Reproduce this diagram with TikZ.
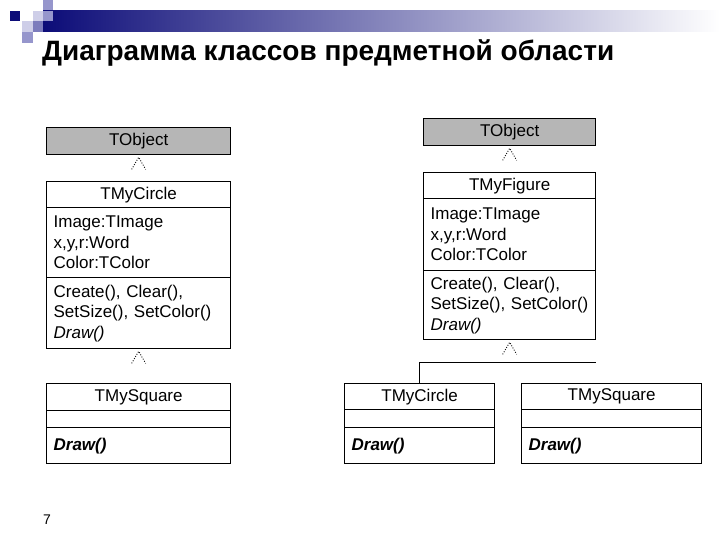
\documentclass[tikz,border=0pt]{standalone}
\usepackage{fontspec}
\setmainfont{Liberation Sans}
\usetikzlibrary{calc}

\definecolor{headnavy}{RGB}{12,12,120}
\definecolor{objgray}{RGB}{182,182,182}
\definecolor{lavlight}{RGB}{206,206,232}
\definecolor{lavmid}{RGB}{150,150,204}
\definecolor{lavdark}{RGB}{124,124,188}

%% open dotted triangle under a class (inheritance tip)
\newcommand{\inhtip}[1]{%
    \coordinate (#1-tip) at ($(#1.south)+(0,2)$);
    \draw[tipline] ($(#1-tip)+(-7,12)$) -- (#1-tip) -- ($(#1-tip)+(7,12)$);
}

\begin{document}
\begin{tikzpicture}[x=1pt,y=-1pt,
    part/.style={draw, line width=1.3pt, anchor=north west, inner xsep=7pt,
        inner ysep=0pt, align=left, font=\fontsize{17}{20.5}\selectfont},
    namepart/.style={part, align=center},
    objbox/.style={namepart, fill=objgray},
    tipline/.style={line width=0.9pt, dash pattern=on 0.9pt off 1.6pt}]
    \useasboundingbox (0,0) rectangle (720,540);

    %% Slide header
    \shade[left color=headnavy, right color=white] (43,11) rectangle (720,32);
    \fill[lavmid] (43,0) rectangle (53,10);
    \fill[headnavy] (10,11) rectangle (20,21);
    \fill[lavlight] (33,11) rectangle (43,21);
    \fill[lavmid] (43,11) rectangle (53,21);
    \fill[lavlight] (22,21) rectangle (33,32);
    \fill[lavdark] (33,21) rectangle (43,32);
    \fill[lavmid] (22,32) rectangle (33,43);
    \node[anchor=base west, inner sep=0pt, font=\bfseries\fontsize{28}{30}\selectfont]
        (title) at (42,61) {Диаграмма классов предметной области};

    %% Left: TObject <- TMyCircle <- TMySquare
    \node[objbox, text width=170pt, minimum height=27] (obj1) at (46,127) {TObject};
    \node[namepart, text width=170pt, minimum height=26] (circ1-name) at (46,181) {TMyCircle};
    \node[part, text width=170pt, minimum height=70] (circ1-attr) at (46,207)
        {Image:TImage\\x,y,r:Word\\Color:TColor};
    \node[part, text width=170pt, minimum height=71] (circ1-ops) at (46,277)
        {Create(), Clear(),\\SetSize(), SetColor()\\\textit{Draw()}};
    \node[namepart, text width=170pt, minimum height=27] (sq1-name) at (46,383) {TMySquare};
    \node[part, text width=170pt, minimum height=17] (sq1-attr) at (46,410) {};
    \node[part, text width=170pt, minimum height=36] (sq1-ops) at (46,427)
        {\textbf{\textit{Draw()}}};
    \inhtip{obj1}
    \inhtip{circ1-ops}

    %% Right: TObject <- TMyFigure <- TMyCircle, TMySquare
    \node[objbox, text width=158pt, minimum height=27] (obj2) at (423,118) {TObject};
    \node[namepart, text width=158pt, minimum height=26] (fig-name) at (423,172) {TMyFigure};
    \node[part, text width=158pt, minimum height=72] (fig-attr) at (423,198)
        {Image:TImage\\x,y,r:Word\\Color:TColor};
    \node[part, text width=158pt, minimum height=69] (fig-ops) at (423,270)
        {Create(), Clear(),\\\mbox{SetSize(), SetColor()}\\\textit{Draw()}};
    \inhtip{obj2}
    \inhtip{fig-ops}

    \node[namepart, text width=136pt, minimum height=26] (circ2-name) at (344,383) {TMyCircle};
    \node[part, text width=136pt, minimum height=18] (circ2-attr) at (344,409) {};
    \node[part, text width=136pt, minimum height=36] (circ2-ops) at (344,427)
        {\textbf{\textit{Draw()}}};
    \node[namepart, text width=166pt, minimum height=26] (sq2-name) at (521,383) {TMySquare};
    \node[part, text width=166pt, minimum height=18] (sq2-attr) at (521,409) {};
    \node[part, text width=166pt, minimum height=36] (sq2-ops) at (521,427)
        {\textbf{\textit{Draw()}}};

    %% the bus line
    \coordinate (bus) at ($(fig-ops.south east)+(0,22)$);
    \draw[line width=1pt] (circ2-name.north) |- (bus);

    %% Page number
    \node[font=\fontsize{14}{16}\selectfont] (pagenum) at (47,520) {7};
\end{tikzpicture}
\end{document}
